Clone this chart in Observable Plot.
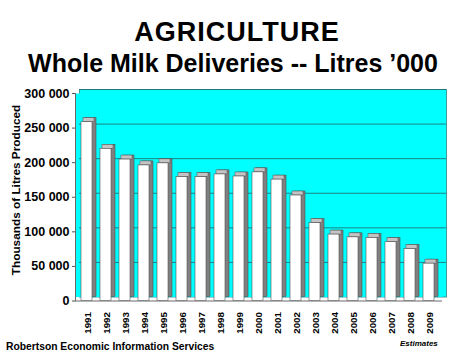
<!DOCTYPE html>
<html>
<head>
<meta charset="utf-8">
<script src="https://cdn.jsdelivr.net/npm/d3@7"></script>
<script src="https://cdn.jsdelivr.net/npm/@observablehq/plot@0.6"></script>
<style>
  html, body { margin: 0; padding: 0; background: #ffffff; }
  #wrap { position: relative; width: 474px; height: 355px; overflow: hidden; font-family: "Liberation Sans", Arial, sans-serif; }
  #wrap svg { position: absolute; left: 0; top: 0; }
  .txt { position: absolute; white-space: nowrap; line-height: 1; color: #000; font-weight: bold; }
</style>
</head>
<body>
<div id="wrap">
  <div class="txt" id="title" style="left:0;width:474px;text-align:center;top:19px;font-size:27px;letter-spacing:1px;">AGRICULTURE</div>
  <div class="txt" id="subtitle" style="left:0;width:466px;text-align:center;top:51px;font-size:25px;">Whole Milk Deliveries -- Litres ’000</div>
  <div class="txt" id="ylabel" style="left:17px;top:190px;font-size:11.8px;transform:translate(-50%,-50%) rotate(-90deg);">Thousands of Litres Produced</div>
  <div class="txt" id="footer" style="left:6px;top:342px;font-size:10.3px;">Robertson Economic Information Services</div>
  <div class="txt" id="note" style="left:400px;top:340px;font-size:8px;font-style:italic;">Estimates</div>
</div>
<script>
const years = ["1991","1992","1993","1994","1995","1996","1997","1998","1999","2000",
               "2001","2002","2003","2004","2005","2006","2007","2008","2009"];
const deliveries = [258500, 220000, 204500, 196000, 199000, 179000, 179000, 183000, 180000, 186000,
                    175500, 152500, 112500, 96000, 92000, 91000, 85000, 75000, 54000];
const yTicks = [0, 50000, 100000, 150000, 200000, 250000, 300000];

const data = years.map((year, i) => ({year, value: deliveries[i]}));
const fmt = d3.formatLocale({thousands: " ", grouping: [3], decimal: ".", currency: ["", ""]}).format(",d");

const chart = Plot.plot({
  width: 474,
  height: 355,
  marginLeft: 75,
  marginRight: 32,
  marginTop: 93,
  marginBottom: 54.5,
  style: {background: "transparent", fontFamily: "'Liberation Sans', Arial, sans-serif", color: "#000"},
  x: {domain: years, paddingInner: 0.4, paddingOuter: 0.19, axis: null},
  y: {domain: [0, 300000], axis: null},
  marks: [
    Plot.frame({fill: "#00ffff", stroke: "#3c9c9c", dx: 4, dy: -4}),
    Plot.frame({fill: "#00ffff", insetBottom: 4}),
    Plot.gridY({ticks: yTicks.filter(d => d > 0), dx: 4, dy: -4, stroke: "#1f6f6f", strokeOpacity: 0.85}),
    Plot.ruleY([0], {stroke: "#6a6a6a"}),
    Plot.frame({anchor: "left", stroke: "#6a6a6a"}),
    Plot.barY(data, {x: "year", y: "value", dx: 3, dy: -4, fill: "#808080", stroke: "#404040", strokeWidth: 0.5}),
    Plot.barY(data, {x: "year", y1: "value", y2: "value", insetTop: -4, dx: 1, fill: "#c4c4c4", stroke: "#505050", strokeWidth: 0.5}),
    Plot.barY(data, {x: "year", y: "value", dx: -1, fill: "#ffffff", stroke: "#505050", strokeWidth: 0.6}),
    Plot.axisY({ticks: yTicks, tickFormat: fmt, tickSize: 3, tickPadding: 3, fontSize: 12.5, fontWeight: "bold", stroke: "#555", fill: "#000", label: null}),
    Plot.axisX({tickRotate: -90, tickSize: 0, tickPadding: 11, fontSize: 9.8, fontWeight: "bold", fill: "#000", label: null})
  ]
});
document.getElementById("wrap").prepend(chart);
</script>
</body>
</html>
